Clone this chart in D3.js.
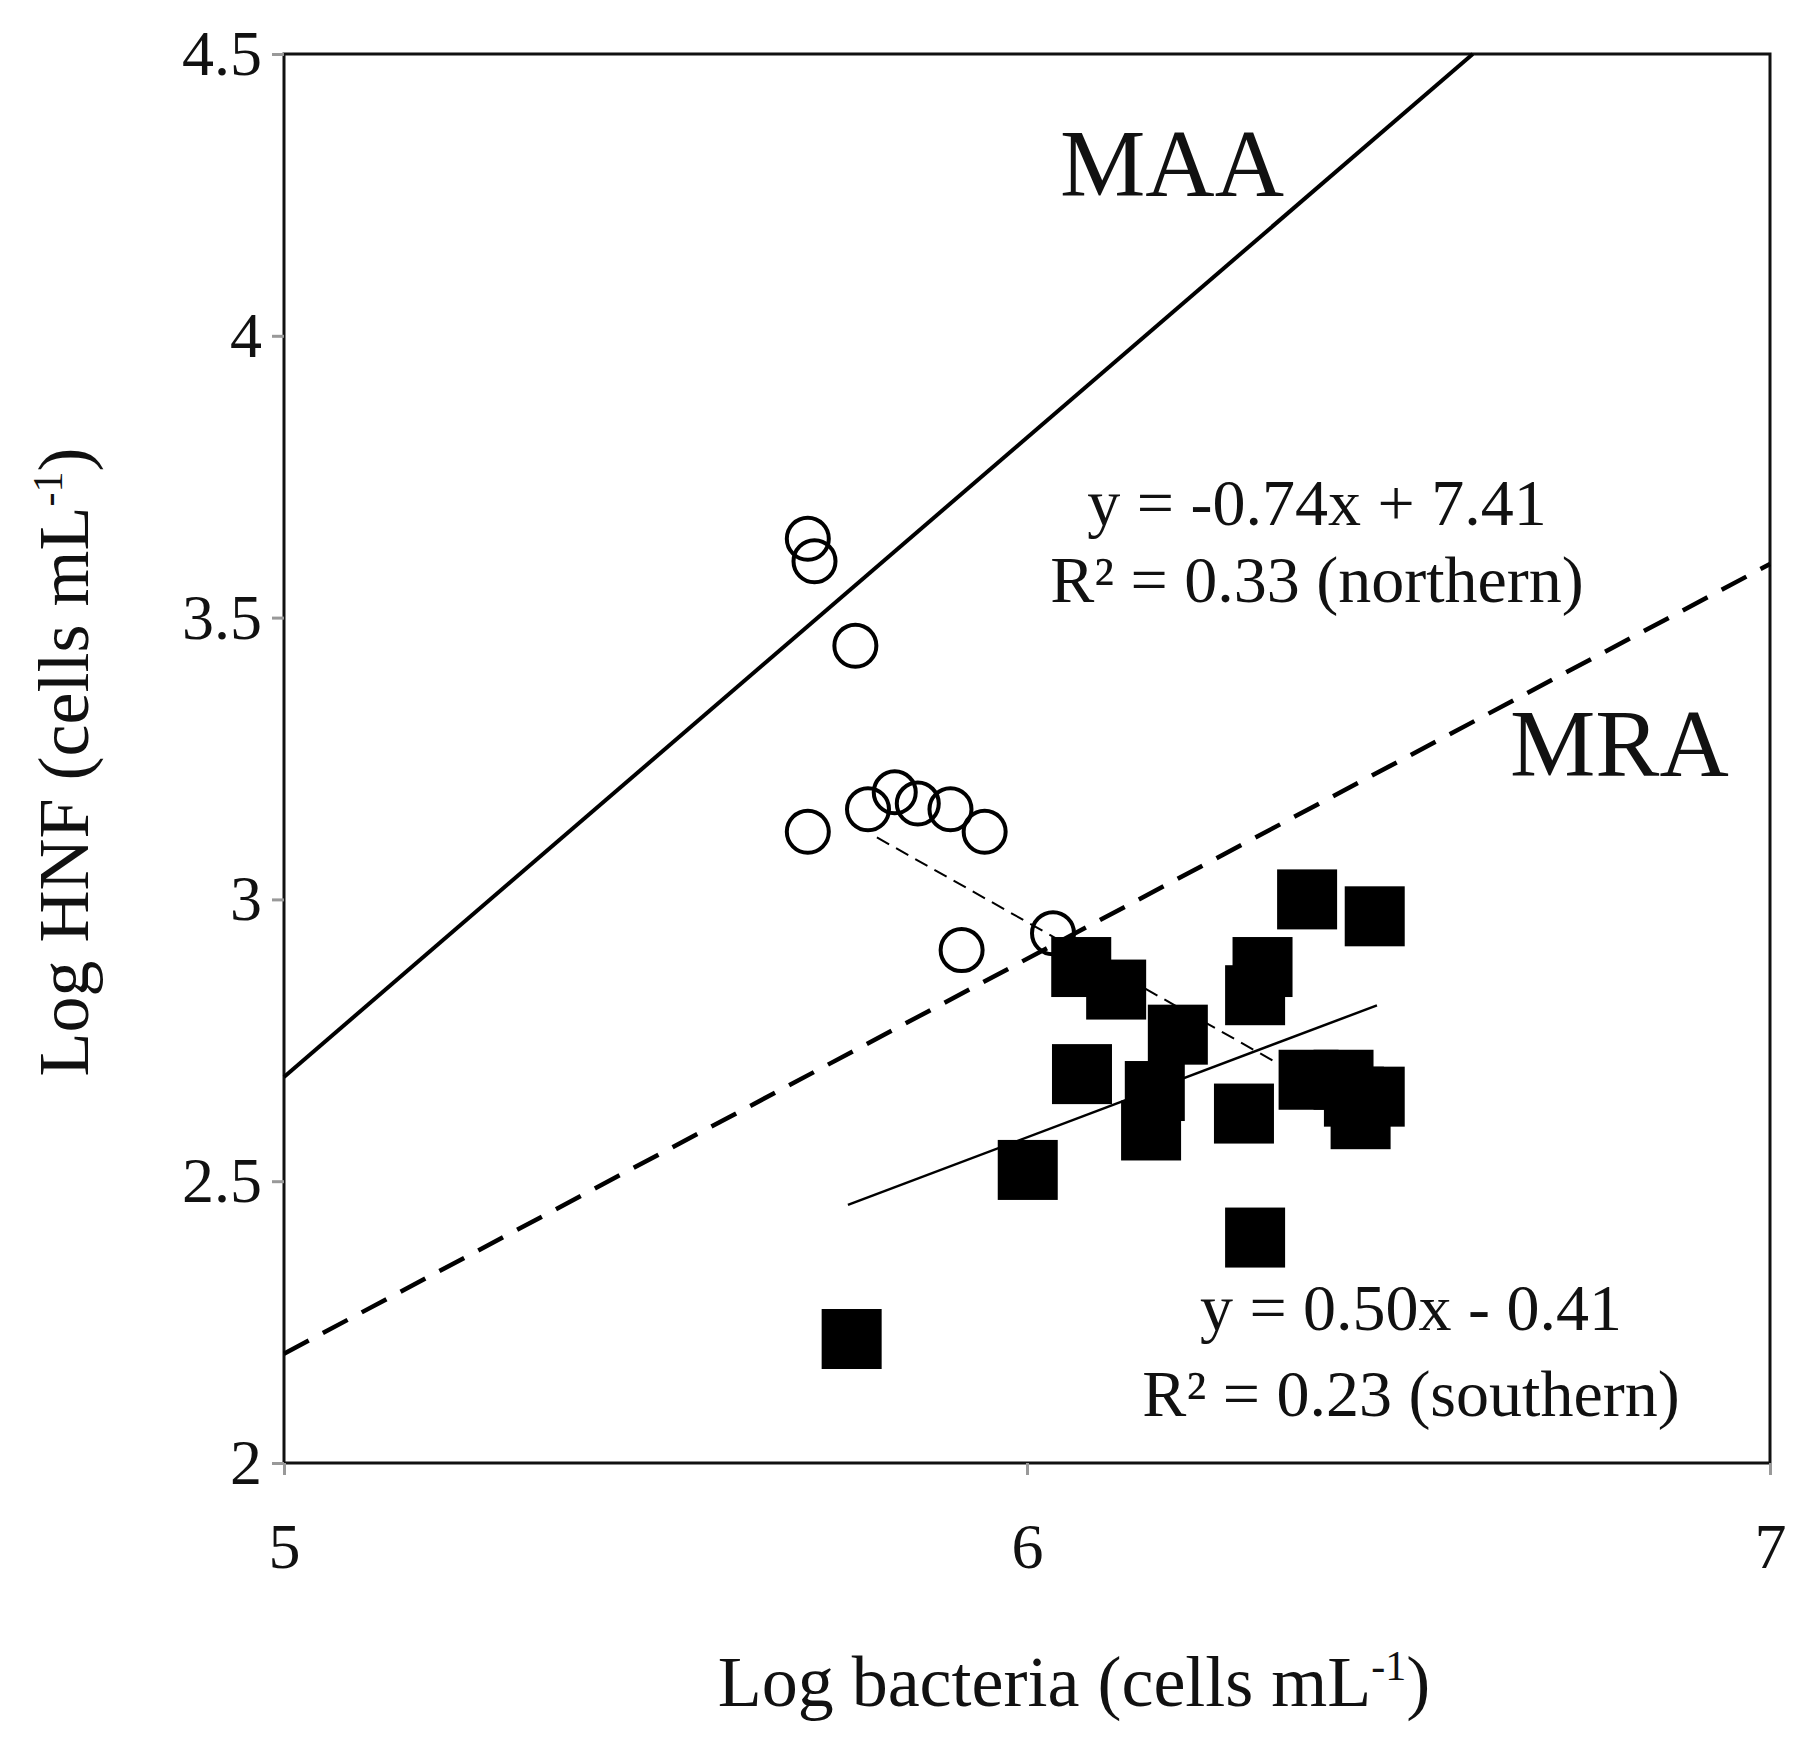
<!DOCTYPE html><html><head><meta charset="utf-8"><script src="https://cdn.jsdelivr.net/npm/d3@7"></script>
<style>body{margin:0;background:#fff}text{font-family:"Liberation Serif","Times New Roman",serif;fill:#111}</style></head><body>
<svg id="c" width="1807" height="1746"></svg>
<script>
const northX=[5.705,5.714,5.769,5.705,5.786,5.822,5.853,5.897,5.943,5.912,6.035];
const northY=[3.64,3.60,3.45,3.12,3.16,3.19,3.17,3.16,3.12,2.91,2.94];
const southX=[5.764,6.001,6.074,6.073,6.120,6.203,6.172,6.167,6.292,6.307,6.317,6.307,6.377,6.468,6.379,6.426,6.449,6.468,6.44];
const southY=[2.22,2.52,2.69,2.88,2.84,2.76,2.66,2.59,2.62,2.40,2.88,2.83,3.00,2.97,2.68,2.68,2.61,2.65,2.65];
const maaLine=[[5.0,2.685],[6.6,4.5]];
const mraLine=[[5.0,2.194],[7.0,3.595]];
const northFit=[[5.798,3.11],[6.343,2.705]];
const southFit=[[5.759,2.458],[6.471,2.812]];
const xTicks=[5,6,7], yTicks=[2,2.5,3,3.5,4,4.5];
const svg=d3.select("#c");
const L=284,R=1770,T=54,B=1463;
const x=d3.scaleLinear().domain([5,7]).range([L,R]);
const y=d3.scaleLinear().domain([2,4.5]).range([B,T]);
svg.append("rect").attr("x",L).attr("y",T).attr("width",R-L).attr("height",B-T).attr("fill","none").attr("stroke","#111").attr("stroke-width",3);
const ya=svg.append("g").attr("transform",`translate(${L},0)`).call(d3.axisLeft(y).tickValues(yTicks).tickFormat(d3.format("")).tickSize(12).tickPadding(10));
const xa=svg.append("g").attr("transform",`translate(0,${B})`).call(d3.axisBottom(x).tickValues(xTicks).tickFormat(d3.format("")).tickSize(12).tickPadding(48));
[ya,xa].forEach(a=>{a.select(".domain").remove();a.selectAll("line").attr("stroke","#999").attr("stroke-width",3);a.selectAll("text").style("font-size","64px").style("font-family","Liberation Serif").attr("fill","#111");});
const ln=d3.line().x(d=>x(d[0])).y(d=>y(d[1]));
svg.append("path").attr("d",ln(maaLine)).attr("stroke","#000").attr("stroke-width",4).attr("fill","none");
svg.append("path").attr("d",ln(mraLine)).attr("stroke","#000").attr("stroke-width",4.5).attr("stroke-dasharray","28,16").attr("fill","none");
svg.append("path").attr("d",ln(northFit)).attr("stroke","#000").attr("stroke-width",2).attr("stroke-dasharray","14,8").attr("fill","none");
svg.append("path").attr("d",ln(southFit)).attr("stroke","#000").attr("stroke-width",2.5).attr("fill","none");
svg.selectAll(".n").data(northX).enter().append("circle").attr("cx",d=>x(d)).attr("cy",(d,i)=>y(northY[i])).attr("r",21).attr("fill","none").attr("stroke","#000").attr("stroke-width",4);
const s=60;
svg.selectAll(".s").data(southX).enter().append("rect").attr("x",d=>x(d)-s/2).attr("y",(d,i)=>y(southY[i])-s/2).attr("width",s).attr("height",s).attr("fill","#000");
const t=(tx,ty,str,sz,anc)=>svg.append("text").attr("x",tx).attr("y",ty).attr("text-anchor",anc||"middle").style("font-size",sz+"px").text(str);
t(1172,196,"MAA",96);
t(1510,776,"MRA",96,"start");
t(1317,525,"y = -0.74x + 7.41",66);
t(1317,602,"R² = 0.33 (northern)",66);
t(1411,1330,"y = 0.50x - 0.41",66);
t(1411,1416,"R² = 0.23 (southern)",66);
const xl=svg.append("text").attr("x",1074).attr("y",1706).attr("text-anchor","middle").style("font-size","72px");
xl.append("tspan").text("Log bacteria (cells mL");xl.append("tspan").attr("dy",-26).style("font-size","42px").text("-1");xl.append("tspan").attr("dy",26).text(")");
const yl=svg.append("text").attr("transform","translate(88,762) rotate(-90)").attr("text-anchor","middle").style("font-size","72px");
yl.append("tspan").text("Log HNF (cells mL");yl.append("tspan").attr("dy",-26).style("font-size","42px").text("-1");yl.append("tspan").attr("dy",26).text(")");
</script></body></html>
